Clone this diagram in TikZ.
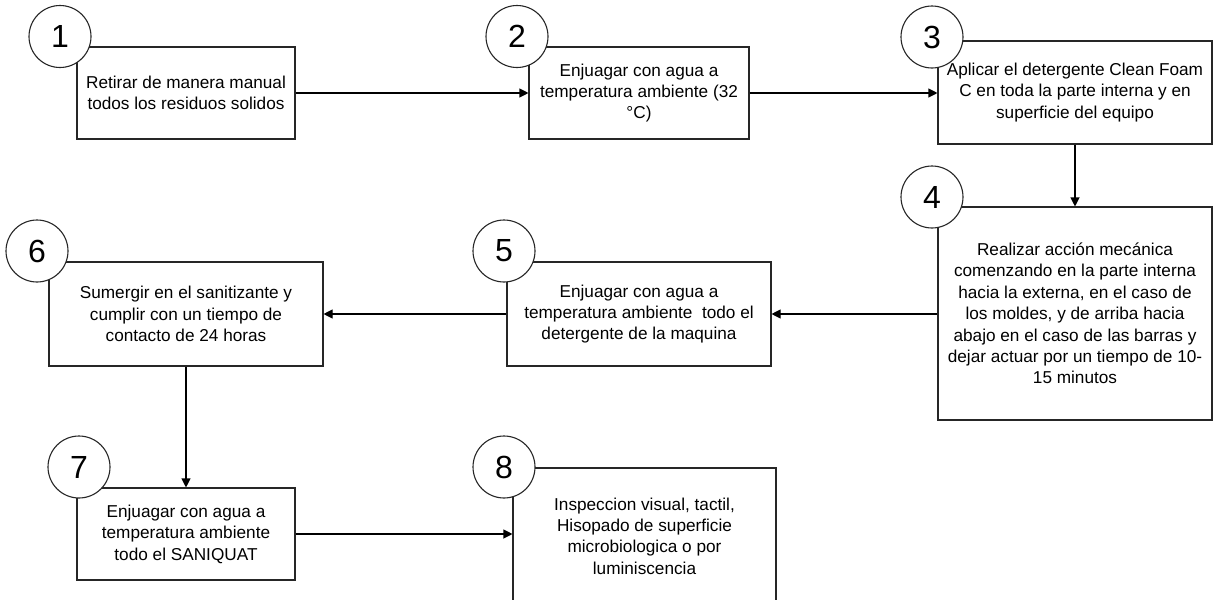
\documentclass[tikz,border=0pt]{standalone}
\usepackage{fontspec}
\setmainfont{Liberation Sans}
\usetikzlibrary{arrows.meta}
\begin{document}
\begin{tikzpicture}[x=1pt,y=-1pt,
  stepbox/.style={draw=black!85, line width=1.1pt, fill=white, rectangle,
    align=center, inner sep=0pt, text=black,
    font=\fontsize{17.2}{21.4}\selectfont},
  numcircle/.style={draw=black!85, line width=1.1pt, fill=white, circle,
    minimum size=62pt, inner sep=0pt, font=\fontsize{32}{32}\selectfont},
  flow/.style={draw=black, line width=1.1pt,
    -{Triangle[length=9pt,width=9pt]}}]
\useasboundingbox (0,0) rectangle (1219,600);
\clip (0,0) rectangle (1219,600);

% process steps
\node[stepbox, minimum width=218pt, minimum height=92pt] (b1) at (186,93)
  {Retirar de manera manual\\todos los residuos solidos};
\node[stepbox, minimum width=220pt, minimum height=92pt] (b2) at (639,93)
  {Enjuagar con agua a\\temperatura ambiente (32\\°C)};
\node[stepbox, minimum width=274pt, minimum height=103pt] (b3) at (1075,92.5)
  {Aplicar el detergente Clean Foam\\C en toda la parte interna y en\\superficie del equipo};
\node[stepbox, minimum width=274pt, minimum height=213pt] (b4) at (1075,313.5)
  {Realizar acción mecánica\\comenzando en la parte interna\\hacia la externa, en el caso de\\los moldes, y de arriba hacia\\abajo en el caso de las barras y\\dejar actuar por un tiempo de 10-\\15 minutos};
\node[stepbox, minimum width=264pt, minimum height=104pt] (b5) at (639,314)
  {Enjuagar con agua a\\temperatura ambiente\ \ todo el\\detergente de la maquina};
\node[stepbox, minimum width=274pt, minimum height=104pt] (b6) at (186,314)
  {Sumergir en el sanitizante y\\cumplir con un tiempo de\\contacto de 24 horas};
\node[stepbox, minimum width=218pt, minimum height=92pt] (b7) at (186,534)
  {Enjuagar con agua a\\temperatura ambiente\\todo el SANIQUAT};
\node[stepbox, minimum width=263pt, minimum height=136pt] (b8) at (644.5,536)
  {Inspeccion visual, tactil,\\Hisopado de superficie\\microbiologica o por\\luminiscencia};

% connectors
\draw[flow] (b1.east) -- (b2.west);
\draw[flow] (b2.east) -- (b2.east -| b3.west);
\draw[flow] (b3.south) -- (b4.north);
\draw[flow] (b4.west |- b5.east) -- (b5.east);
\draw[flow] (b5.west) -- (b6.east);
\draw[flow] (b6.south) -- (b7.north);
\draw[flow] (b7.east) -- (b7.east -| b8.west);

% step numbers
\node[numcircle] (n1) at (60,36.5) {1};
\node[numcircle] (n2) at (517,36.5) {2};
\node[numcircle] (n3) at (932,37) {3};
\node[numcircle] (n4) at (932,197) {4};
\node[numcircle] (n5) at (504,251) {5};
\node[numcircle] (n6) at (37,251) {6};
\node[numcircle] (n7) at (79,467) {7};
\node[numcircle] (n8) at (504,467) {8};
\end{tikzpicture}
\end{document}
